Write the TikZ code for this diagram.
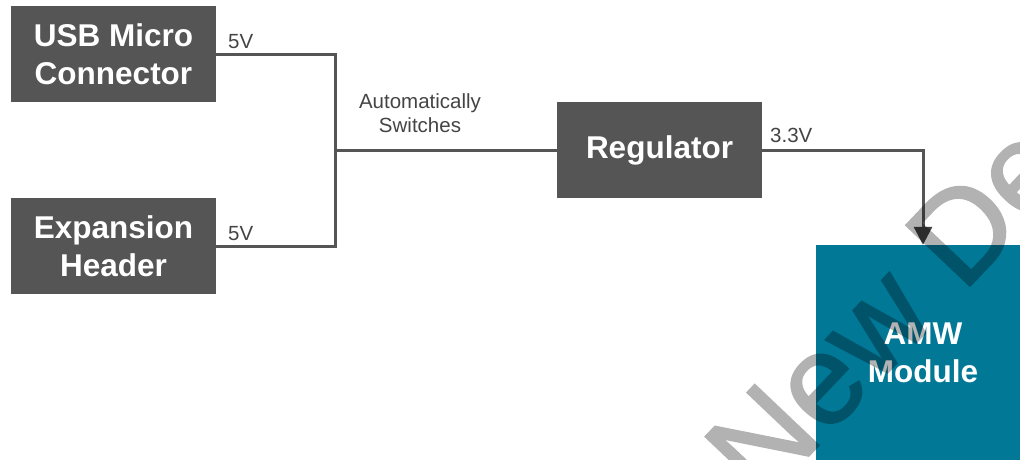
\documentclass[tikz,border=0pt]{standalone}
\usepackage{fontspec}
\setmainfont{Liberation Sans}
\usetikzlibrary{arrows.meta}
\font\wmfnt="Liberation Sans:embolden=1.5" at 128pt
\definecolor{boxgray}{RGB}{85,85,85}
\definecolor{amwblue}{RGB}{0,120,150}
\definecolor{linegray}{RGB}{85,85,85}
\definecolor{labelgray}{RGB}{68,68,68}
\definecolor{arrowgray}{RGB}{64,64,64}
\begin{document}
\begin{tikzpicture}[x=1pt,y=-1pt,
  box/.style={fill=boxgray, text=white, font=\bfseries\fontsize{31.5}{38}\selectfont,
    minimum width=205pt, minimum height=96pt, inner sep=0pt, align=center},
  wire/.style={draw=linegray, line width=3pt},
  lbl/.style={text=labelgray, font=\fontsize{20.5}{24}\selectfont, inner sep=0pt, align=center},
  wmark/.style={font=\wmfnt, text=black, inner sep=0pt}]
\useasboundingbox (0,0) rectangle (1020,459);
\clip (0,0) rectangle (1020,459);
\node[box] (usb) at (113.5,54) {USB Micro\\Connector};
\node[box] (exp) at (113.5,246) {Expansion\\Header};
\node[box] (reg) at (659.5,150) {Regulator};
\node[box, fill=amwblue, minimum width=214pt, minimum height=216pt] (amw) at (923,353) {AMW\\Module};
\coordinate (bus) at (335,150);
\draw[wire] (usb.east) -| (bus) |- (exp.east);
\draw[wire] (bus) -- (reg.west);
\draw[wire, -{Triangle[length=18pt,width=18pt,color=arrowgray]}] (reg.east) -| (amw.north);
\node[lbl, anchor=base west] (l1) at (228,48) {5V};
\node[lbl, anchor=base west] (l2) at (228,240) {5V};
\node[lbl, anchor=base west] (l3) at (770,142) {3.3V};
\node[lbl] (l4) at (420,113.5) {Automatically\\Switches};
\begin{scope}[transparency group, opacity=0.3]
\node[wmark, rotate=46.5, anchor=base west] (wm) at (762,505) {New De};
\end{scope}
\end{tikzpicture}
\end{document}
